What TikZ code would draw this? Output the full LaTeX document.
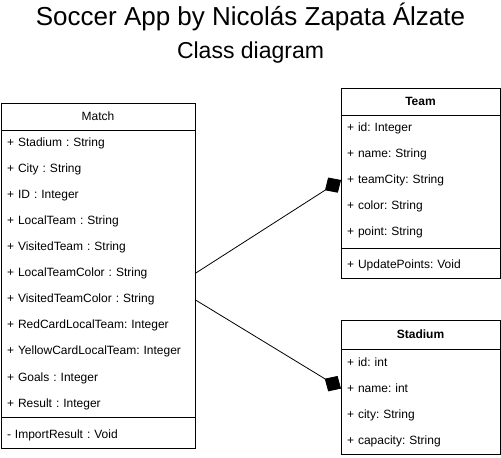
\documentclass[tikz,border=0pt]{standalone}
\usepackage{fontspec}
\setmainfont{Liberation Sans}
\usetikzlibrary{positioning,arrows.meta}
\frenchspacing

\begin{document}
\begin{tikzpicture}[
		x=1pt, y=-1pt,
		font=\fontsize{12}{14}\selectfont,
		every node/.style={outer sep=0pt},
		head/.style={
			inner sep=0pt,
			minimum height=27pt,
			anchor=north west
		},
		field/.style={
			inner xsep=6pt,
			inner ysep=0pt,
			minimum height=26.1pt,
			align=left,
			anchor=north west
		},
		matchfield/.style={field, text width=182pt},
		sidefield/.style={field, text width=147pt},
		frame/.style={draw=black, line width=0.8pt},
		owns/.style={line width=0.8pt, -{Diamond[length=19pt,width=18pt]}}
		]
		\useasboundingbox (0,0) rectangle (501,458);
		
		% Titles
		\node [font=\fontsize{26}{30}\selectfont] (title) at (250.5,17) {Soccer App by Nicolás Zapata Álzate};
		\node [font=\fontsize{23}{27}\selectfont] (subtitle) at (250.5,53) {Class diagram};
		
		% Class Match
		\node [head, minimum width=194pt] (match) at (1,103) {Match};
		\node [matchfield, below=0pt of match.south west, anchor=north west] (m1) {+ Stadium : String};
		\node [matchfield, below=0pt of m1.south west, anchor=north west] (m2) {+ City : String};
		\node [matchfield, below=0pt of m2.south west, anchor=north west] (m3) {+ ID : Integer};
		\node [matchfield, below=0pt of m3.south west, anchor=north west] (m4) {+ LocalTeam : String};
		\node [matchfield, below=0pt of m4.south west, anchor=north west] (m5) {+ VisitedTeam : String};
		\node [matchfield, below=0pt of m5.south west, anchor=north west] (m6) {+ LocalTeamColor : String};
		\node [matchfield, below=0pt of m6.south west, anchor=north west] (m7) {+ VisitedTeamColor : String};
		\node [matchfield, below=0pt of m7.south west, anchor=north west] (m8) {+ RedCardLocalTeam: Integer};
		\node [matchfield, below=0pt of m8.south west, anchor=north west] (m9) {+ YellowCardLocalTeam: Integer};
		\node [matchfield, below=0pt of m9.south west, anchor=north west] (m10) {+ Goals : Integer};
		\node [matchfield, below=0pt of m10.south west, anchor=north west] (m11) {+ Result : Integer};
		\node [matchfield, minimum height=26pt, below=5pt of m11.south west, anchor=north west] (mop) {- ImportResult : Void};
		
		\draw [frame] (match.north west) rectangle (mop.south east);
		\draw [frame] (match.south west) -- (match.south east);
		\draw [frame] (m11.south west) -- (m11.south east);
		
		% Class Team
		\node [head, minimum width=159pt, font=\fontsize{12}{14}\selectfont\bfseries] (team) at (341,88) {Team};
		\node [sidefield, minimum height=26pt, below=0pt of team.south west, anchor=north west] (t1) {+ id: Integer};
		\node [sidefield, minimum height=26pt, below=0pt of t1.south west, anchor=north west] (t2) {+ name: String};
		\node [sidefield, minimum height=26pt, below=0pt of t2.south west, anchor=north west] (t3) {+ teamCity: String};
		\node [sidefield, minimum height=26pt, below=0pt of t3.south west, anchor=north west] (t4) {+ color: String};
		\node [sidefield, minimum height=26pt, below=0pt of t4.south west, anchor=north west] (t5) {+ point: String};
		\node [sidefield, minimum height=26pt, below=7pt of t5.south west, anchor=north west] (top) {+ UpdatePoints: Void};
		
		\draw [frame] (team.north west) rectangle (top.south east);
		\draw [frame] (team.south west) -- (team.south east);
		\draw [frame] ([yshift=-3pt]t5.south west) -- ([yshift=-3pt]t5.south east);
		
		% Class Stadium
		\node [head, minimum width=159pt, minimum height=29pt, font=\fontsize{12}{14}\selectfont\bfseries] (stadium) at (341,320) {Stadium};
		\node [sidefield, minimum height=26.4pt, below=0pt of stadium.south west, anchor=north west] (s1) {+ id: int};
		\node [sidefield, minimum height=26.4pt, below=0pt of s1.south west, anchor=north west] (s2) {+ name: int};
		\node [sidefield, minimum height=26.4pt, below=0pt of s2.south west, anchor=north west] (s3) {+ city: String};
		\node [sidefield, minimum height=26.4pt, below=0pt of s3.south west, anchor=north west] (s4) {+ capacity: String};
		
		\draw [frame] (stadium.north west) rectangle (s4.south east);
		\draw [frame] (stadium.south west) -- (stadium.south east);
		
		% Associations
		\draw [owns] (m6.east) -- (t3.west);
		\draw [owns] (m7.east) -- (s2.west);
		
\end{tikzpicture}
\end{document}
